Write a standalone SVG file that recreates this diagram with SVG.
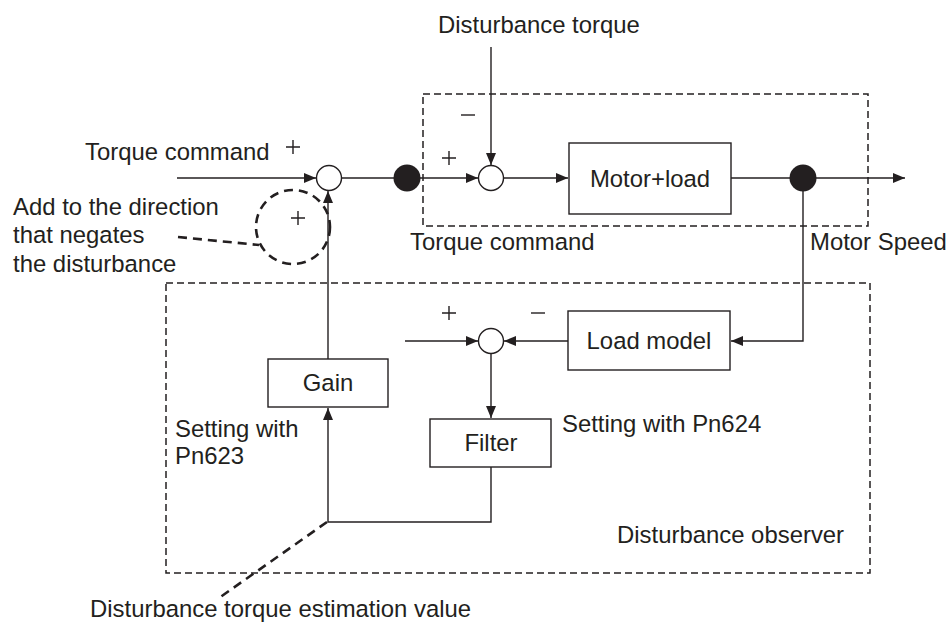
<svg xmlns="http://www.w3.org/2000/svg" width="948" height="623" viewBox="0 0 948 623">
<defs>
<marker id="arr" markerWidth="12" markerHeight="10" refX="12" refY="5" orient="auto" markerUnits="userSpaceOnUse">
<path d="M0,0 L12,5 L0,10 Z" fill="#231f20"/>
</marker>
<style>
.t{font-family:"Liberation Sans",Arial,sans-serif;font-size:23.9px;fill:#231f20}
.m{text-anchor:middle}
.ln{stroke:#231f20;stroke-width:1.4;fill:none}
.box{stroke:#231f20;stroke-width:1.4;fill:#fff}
.dbox{stroke:#231f20;stroke-width:1.5;fill:none;stroke-dasharray:7 4}
.lead{stroke:#231f20;stroke-width:2.6;fill:none;stroke-dasharray:9 6}
.sum{stroke:#231f20;stroke-width:1.4;fill:#fff}
.dot{fill:#231f20}
.sg{stroke:#231f20;stroke-width:1.4;fill:none}
</style>
</defs>
<rect width="948" height="623" fill="#fff"/>

<g id="regions">
<rect class="dbox" x="423" y="94" width="445" height="132"/>
<rect class="dbox" x="166" y="283" width="704" height="290"/>
</g>

<g id="connectors">
<line class="ln" x1="177" y1="178" x2="316" y2="178" marker-end="url(#arr)"/>
<line class="ln" x1="341" y1="178" x2="407" y2="178"/>
<line class="ln" x1="407" y1="178" x2="478" y2="178" marker-end="url(#arr)"/>
<line class="ln" x1="491" y1="47" x2="491" y2="165" marker-end="url(#arr)"/>
<line class="ln" x1="503" y1="178" x2="568" y2="178" marker-end="url(#arr)"/>
<line class="ln" x1="731" y1="178" x2="905" y2="178" marker-end="url(#arr)"/>
<polyline class="ln" points="803,178 803,341 731,341" marker-end="url(#arr)"/>
<line class="ln" x1="568" y1="341" x2="504" y2="341" marker-end="url(#arr)"/>
<line class="ln" x1="405" y1="341" x2="478" y2="341" marker-end="url(#arr)"/>
<line class="ln" x1="491" y1="354" x2="491" y2="418" marker-end="url(#arr)"/>
<polyline class="ln" points="491,467 491,522 328,522 328,408" marker-end="url(#arr)"/>
<line class="ln" x1="328" y1="359" x2="328" y2="191" marker-end="url(#arr)"/>
</g>

<g id="sum1"><circle class="sum" cx="329" cy="178" r="12.5"/></g>
<g id="branch1"><circle class="dot" cx="407" cy="178" r="13.5"/></g>
<g id="sum2"><circle class="sum" cx="491" cy="178" r="12.5"/></g>
<g id="motorload"><rect class="box" x="569" y="143" width="162" height="71"/><text class="t m" x="650" y="187">Motor+load</text></g>
<g id="branch2"><circle class="dot" cx="803" cy="178" r="13.5"/></g>
<g id="loadmodel"><rect class="box" x="568" y="311" width="162" height="59"/><text class="t m" x="649" y="349">Load model</text></g>
<g id="sum3"><circle class="sum" cx="491" cy="341" r="12.5"/></g>
<g id="gain"><rect class="box" x="268" y="359" width="120" height="48"/><text class="t m" x="328" y="391">Gain</text></g>
<g id="filter"><rect class="box" x="430" y="419" width="121" height="48"/><text class="t m" x="491" y="451">Filter</text></g>

<g id="signs">
<path class="sg" d="M286,147 h14 M293,140 v14"/>
<path class="sg" d="M442,158 h14 M449,151 v14"/>
<path class="sg" d="M461,115 h14"/>
<path class="sg" d="M442,313 h14 M449,306 v14"/>
<path class="sg" d="M531,313 h14"/>
</g>

<g id="annotation">
<circle class="lead" cx="293" cy="227" r="37"/>
<path class="sg" d="M291,218 h14 M298,211 v14"/>
<line class="lead" x1="178" y1="237" x2="259" y2="245"/>
<line class="lead" x1="327" y1="522" x2="219" y2="598"/>
</g>

<g id="labels">
<text class="t" x="438" y="33">Disturbance torque</text>
<text class="t" x="85" y="160">Torque command</text>
<text class="t" x="410" y="250">Torque command</text>
<text class="t" x="810" y="250">Motor Speed</text>
<text class="t" x="13" y="215">Add to the direction</text>
<text class="t" x="13" y="243">that negates</text>
<text class="t" x="13" y="272">the disturbance</text>
<text class="t" x="175" y="437">Setting with</text>
<text class="t" x="175" y="464">Pn623</text>
<text class="t" x="562" y="432">Setting with Pn624</text>
<text class="t" x="617" y="543">Disturbance observer</text>
<text class="t" x="90" y="617">Disturbance torque estimation value</text>
</g>
</svg>
